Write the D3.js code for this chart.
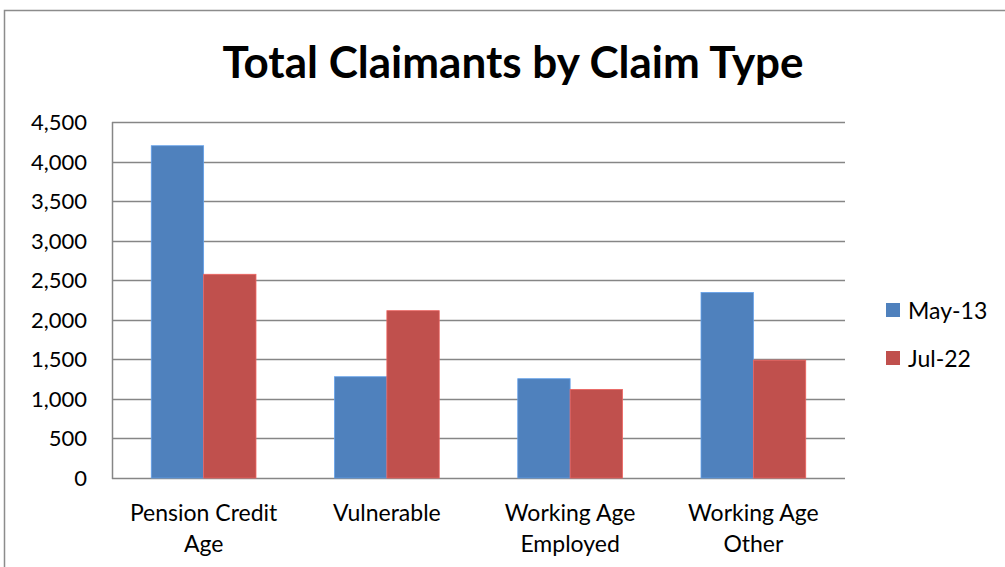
<!DOCTYPE html>
<html>
<head>
<meta charset="utf-8">
<script src="https://cdn.jsdelivr.net/npm/d3@7"></script>
<style>
  body { margin: 0; background: #fff; }
  text { font-family: Lato, "Open Sans", sans-serif; fill: #000; }
</style>
</head>
<body>
<svg id="chart" width="1005" height="567"></svg>
<script>
// Chart data
let categories = [['Pension Credit', 'Age'], ['Vulnerable'], ['Working Age', 'Employed'], ['Working Age', 'Other']],
    seriesNames = ['May-13', 'Jul-22'],
    may13 = [4200, 1280, 1255, 2345],
    jul22 = [2575, 2115, 1120, 1490],
    yTicks = [0, 500, 1000, 1500, 2000, 2500, 3000, 3500, 4000, 4500],
    colors = ['#4F81BD', '#C0504D'];

let svg = d3.select('#chart'),
    plot = { left: 112, right: 845, top: 122, bottom: 478 };

// Outer chart border (runs off the right and bottom edges)
svg.append('rect')
    .attr('x', 4.5).attr('y', 10.5)
    .attr('width', 1020).attr('height', 620)
    .attr('fill', 'none').attr('stroke', '#8c8c8c').attr('stroke-width', 1.5);

// Title
svg.append('text')
    .attr('x', 513).attr('y', 78)
    .attr('text-anchor', 'middle')
    .style('font-size', '44px').style('font-weight', 'bold')
    .text('Total Claimants by Claim Type');

let x0 = d3.scaleBand()
    .domain(d3.range(categories.length))
    .range([plot.left, plot.right])
    .paddingInner(0).paddingOuter(0);

let x1 = d3.scaleBand()
    .domain(seriesNames)
    .range([0, x0.bandwidth()])
    .paddingInner(0)
    .paddingOuter(0.75);

let y = d3.scaleLinear()
    .domain([0, 4500])
    .range([plot.bottom, plot.top]);

// Gridlines
svg.append('g')
    .selectAll('line')
    .data(yTicks)
    .join('line')
    .attr('x1', plot.left).attr('x2', plot.right)
    .attr('y1', d => Math.round(y(d)) + 0.5).attr('y2', d => Math.round(y(d)) + 0.5)
    .attr('stroke', '#868686').attr('stroke-width', 1.5);

// Y axis line
svg.append('line')
    .attr('x1', plot.left + 0.5).attr('x2', plot.left + 0.5)
    .attr('y1', plot.top).attr('y2', plot.bottom + 1)
    .attr('stroke', '#868686').attr('stroke-width', 1.5);

// Y tick labels
svg.append('g')
    .selectAll('text')
    .data(yTicks)
    .join('text')
    .attr('x', 87)
    .attr('y', d => y(d) + 8)
    .attr('text-anchor', 'end')
    .style('font-size', '22px')
    .text(d => d3.format(',')(d));

// Bars
let series = [may13, jul22];
let groups = svg.append('g')
    .selectAll('g')
    .data(categories.map((c, i) => i))
    .join('g')
    .attr('transform', i => 'translate(' + x0(i) + ',0)');

groups.selectAll('rect')
    .data(i => seriesNames.map((s, k) => ({ name: s, value: series[k][i], color: colors[k] })))
    .join('rect')
    .attr('x', d => x1(d.name))
    .attr('width', x1.bandwidth())
    .attr('y', d => y(d.value))
    .attr('height', d => plot.bottom - y(d.value))
    .attr('fill', d => d.color)
    .attr('stroke', d => d3.color(d.color).brighter(0.6))
    .attr('stroke-width', 0.8);

// Category labels
svg.append('g')
    .selectAll('text')
    .data(categories.map((c, i) => ({ lines: c, i: i })))
    .join('text')
    .attr('text-anchor', 'middle')
    .style('font-size', '23px')
    .each(function (d) {
      let t = d3.select(this);
      d.lines.forEach((line, k) => {
        t.append('tspan')
            .attr('x', x0(d.i) + x0.bandwidth() / 2)
            .attr('y', 521 + k * 31)
            .text(line);
      });
    });

// Legend
let legend = svg.append('g')
    .selectAll('g')
    .data(seriesNames)
    .join('g')
    .attr('transform', (d, k) => 'translate(886,' + (303 + k * 48) + ')');

legend.append('rect')
    .attr('width', 14).attr('height', 14)
    .attr('fill', (d, k) => colors[k]);

legend.append('text')
    .attr('x', 22).attr('y', 16)
    .style('font-size', '23px')
    .text(d => d);
</script>
</body>
</html>
